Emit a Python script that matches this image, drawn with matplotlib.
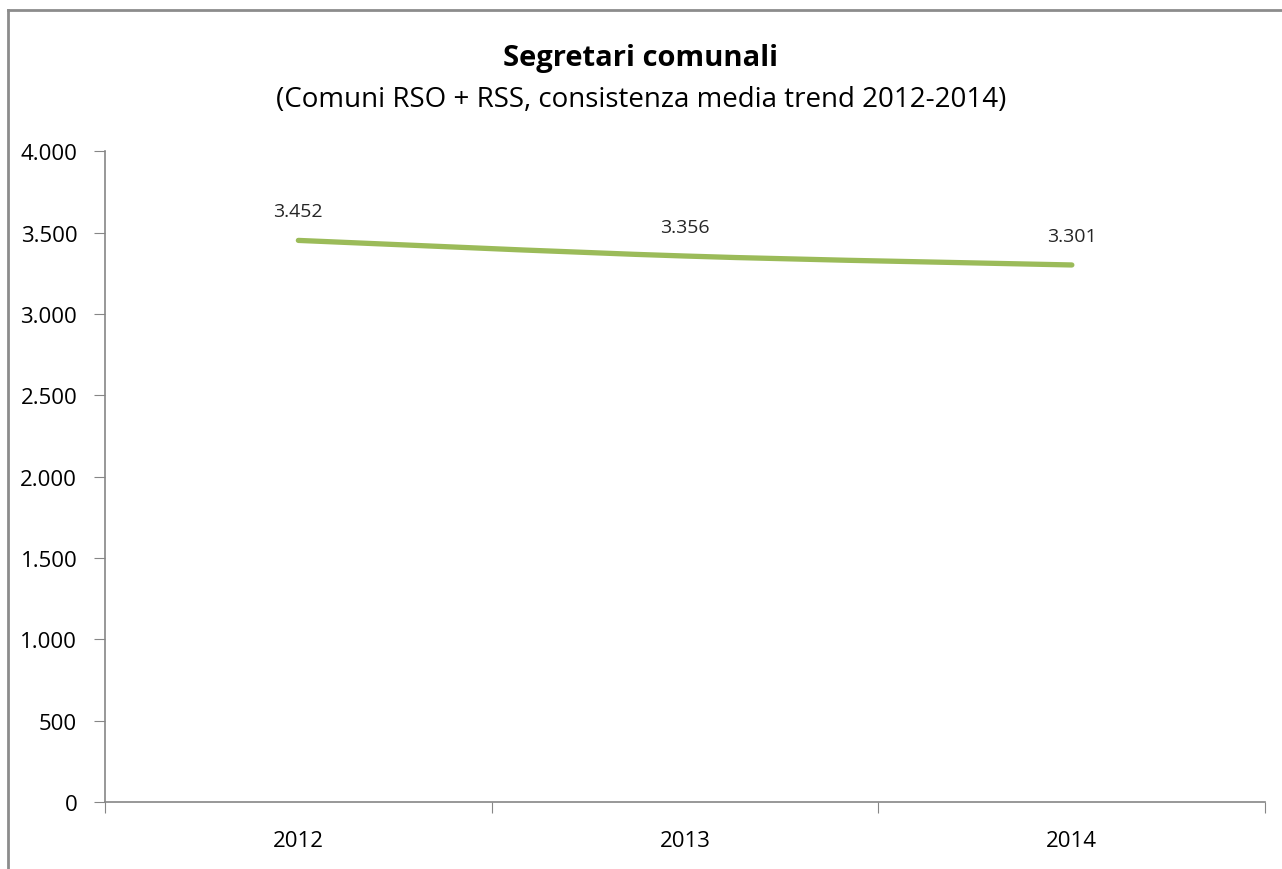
import numpy as np
import matplotlib.pyplot as plt
from matplotlib.path import Path
from matplotlib.patches import PathPatch
from matplotlib.ticker import FuncFormatter, FixedLocator

# dati
anni = ['2012', '2013', '2014']
segretari = [3452, 3356, 3301]

plt.rcParams['font.family'] = ['Open Sans', 'DejaVu Sans']

fig = plt.figure(figsize=(12.82, 8.7), dpi=100)
ax = fig.add_axes([0.0819, 0.077, 0.905, 0.748])

x = np.arange(1, len(anni) + 1)
y = np.array(segretari, dtype=float)

# linea smussata (stile Excel) con curve di Bezier
verts = [(x[0], y[0])]
codes = [Path.MOVETO]
for i in range(len(x) - 1):
    p0 = (x[i - 1], y[i - 1]) if i > 0 else (x[i], y[i])
    p1 = (x[i], y[i])
    p2 = (x[i + 1], y[i + 1])
    p3 = (x[i + 2], y[i + 2]) if i + 2 < len(x) else p2
    c1 = (p1[0] + (p2[0] - p0[0]) / 6, p1[1] + (p2[1] - p0[1]) / 6)
    c2 = (p2[0] - (p3[0] - p1[0]) / 6, p2[1] - (p3[1] - p1[1]) / 6)
    verts += [c1, c2, p2]
    codes += [Path.CURVE4] * 3
ax.add_patch(PathPatch(Path(verts, codes), facecolor='none', edgecolor='#9BBB59',
                       lw=3.8, capstyle='round', zorder=3))

for xi, yi in zip(x, segretari):
    ax.annotate(f'{yi:,}'.replace(',', '.'), (xi, yi), xytext=(0, 21),
                textcoords='offset points', ha='center', va='center',
                fontsize=14, color='#262626')

ax.set_xlim(0.5, len(anni) + 0.5)
ax.set_ylim(0, 4000)
ax.set_yticks(np.arange(0, 4001, 500))
ax.yaxis.set_major_formatter(FuncFormatter(lambda v, p: f'{int(v):,}'.replace(',', '.')))

ax.xaxis.set_major_locator(FixedLocator(np.arange(0.5, len(anni) + 1, 1)))
ax.xaxis.set_minor_locator(FixedLocator(x))
ax.set_xticklabels([])
ax.set_xticklabels(anni, minor=True)
ax.tick_params(axis='x', which='major', length=8, color='#868686', direction='out')
ax.tick_params(axis='x', which='minor', length=0, pad=20, labelsize=16)
ax.tick_params(axis='y', length=8, color='#868686', labelsize=16, pad=12)

for s in ['top', 'right']:
    ax.spines[s].set_visible(False)
for s in ['left', 'bottom']:
    ax.spines[s].set_color('#868686')
    ax.spines[s].set_linewidth(1.2)

fig.text(0.5, 0.933, 'Segretari comunali', ha='center', va='center',
         fontsize=21, fontweight='bold')
fig.text(0.5, 0.885, '(Comuni RSO + RSS, consistenza media trend 2012-2014)',
         ha='center', va='center', fontsize=20)

# bordo del grafico
fig.add_artist(plt.Line2D([0.0062, 1.0], [0.9874, 0.9874], color='#8C8C8C', lw=2))
fig.add_artist(plt.Line2D([0.0062, 0.0062], [0.0, 0.9874], color='#8C8C8C', lw=2))

fig.savefig('out.png', dpi=100)
